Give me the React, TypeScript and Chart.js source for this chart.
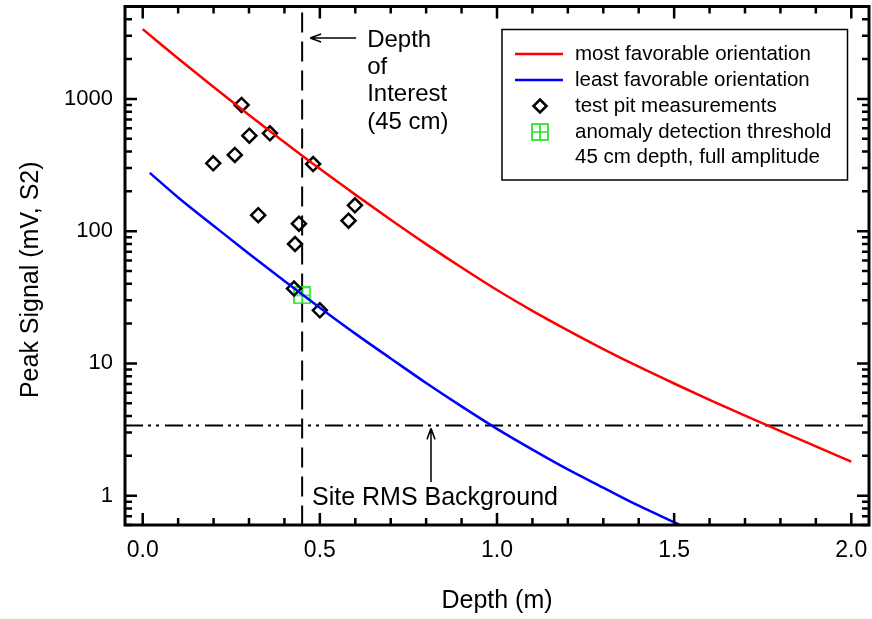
import React, { useEffect, useRef } from "react";
import { Chart, registerables } from "chart.js";

Chart.register(...registerables);

const FONT = '"Liberation Sans", Arial, Helvetica, sans-serif';

// ---- data ----
const mostDepth = [0.0, 0.1, 0.2, 0.3, 0.4, 0.5, 0.6, 0.7, 0.8, 0.9, 1.0, 1.1, 1.2, 1.3, 1.4, 1.5, 1.6, 1.7, 1.8, 1.9, 2.0];
const mostFavorable = [3370, 2023, 1230, 757, 471, 296, 189, 122, 79.8, 53.1, 35.9, 25.0, 17.8, 12.85, 9.44, 7.05, 5.31, 4.03, 3.08, 2.36, 1.81];

const leastDepth = [0.02, 0.1, 0.2, 0.3, 0.4, 0.5, 0.6, 0.7, 0.8, 0.9, 1.0, 1.1, 1.2, 1.3, 1.4, 1.5, 1.6];
const leastFavorable = [276, 180, 110, 67.5, 42.0, 26.4, 16.8, 10.9, 7.11, 4.73, 3.2, 2.23, 1.58, 1.15, 0.84, 0.63, 0.47];

const pitDepth = [0.199, 0.26, 0.279, 0.301, 0.326, 0.359, 0.427, 0.43, 0.441, 0.481, 0.5, 0.581, 0.599];
const pitSignal = [326, 377, 900, 527, 132, 550, 36.8, 80, 114, 322, 25.2, 120, 157];

const thresholdDepth = [0.45];
const thresholdSignal = [32.7];

const depthOfInterest = 0.45;
const siteRmsBackground = 3.4;

const xTickValues = [0, 0.5, 1.0, 1.5, 2.0];
const yTickValues = [1, 10, 100, 1000];
const xMin = -0.05;
const xMax = 2.05;
const yMin = 0.6;
const yMax = 5000;

const legendLabels = [
  "most favorable orientation",
  "least favorable orientation",
  "test pit measurements",
  "anomaly detection threshold",
  "45 cm depth, full amplitude",
];
const interestLabel = ["Depth", "of", "Interest", "(45 cm)"];
const backgroundLabel = "Site RMS Background";
const xTitle = "Depth (m)";
const yTitle = "Peak Signal (mV, S2)";

const RED = "#ff0000";
const BLUE = "#0000ff";
const GREEN = "#22e622";

function makeThresholdMarker(size: number): HTMLCanvasElement {
  const c = document.createElement("canvas");
  c.width = size;
  c.height = size;
  const g = c.getContext("2d")!;
  g.strokeStyle = GREEN;
  g.lineWidth = 1.7;
  const m = 1;
  g.strokeRect(m, m, size - 2 * m, size - 2 * m);
  g.beginPath();
  g.moveTo(size / 2, m);
  g.lineTo(size / 2, size - m);
  g.moveTo(m, size / 2);
  g.lineTo(size - m, size / 2);
  g.stroke();
  return c;
}

function drawDiamond(ctx: CanvasRenderingContext2D, cx: number, cy: number, r: number) {
  ctx.beginPath();
  ctx.moveTo(cx, cy - r);
  ctx.lineTo(cx + r, cy);
  ctx.lineTo(cx, cy + r);
  ctx.lineTo(cx - r, cy);
  ctx.closePath();
  ctx.stroke();
}

export default function App() {
  const ref = useRef<HTMLCanvasElement>(null);

  useEffect(() => {
    const marker = makeThresholdMarker(18);

    const overlay = {
      id: "overlay",
      beforeDatasetsDraw(chart: any) {
        const { ctx, chartArea: a, scales } = chart;
        const x = scales.x;
        const y = scales.y;
        ctx.save();
        ctx.beginPath();
        ctx.rect(a.left, a.top, a.right - a.left, a.bottom - a.top);
        ctx.clip();
        ctx.strokeStyle = "#000";
        ctx.lineWidth = 2;
        const px = x.getPixelForValue(depthOfInterest);
        ctx.setLineDash([20, 9]);
        ctx.lineDashOffset = -6;
        ctx.beginPath();
        ctx.moveTo(px, a.top);
        ctx.lineTo(px, a.bottom);
        ctx.stroke();
        const py = y.getPixelForValue(siteRmsBackground);
        ctx.setLineDash([18, 5, 3, 5, 3, 6]);
        ctx.lineDashOffset = 0;
        ctx.beginPath();
        ctx.moveTo(a.left, py);
        ctx.lineTo(a.right, py);
        ctx.stroke();
        ctx.restore();
      },
      afterDraw(chart: any) {
        const { ctx, chartArea: a, scales } = chart;
        const x = scales.x;
        const y = scales.y;
        ctx.save();
        ctx.setLineDash([]);
        ctx.strokeStyle = "#000";
        ctx.fillStyle = "#000";

        // ticks (inward, on all four sides)
        ctx.lineWidth = 2.5;
        ctx.beginPath();
        for (let i = 0; i <= 20; i++) {
          const v = i / 10;
          const len = i % 5 === 0 ? 12 : 7;
          const p = x.getPixelForValue(v);
          ctx.moveTo(p, a.bottom);
          ctx.lineTo(p, a.bottom - len);
          ctx.moveTo(p, a.top);
          ctx.lineTo(p, a.top + len);
        }
        for (let e = -1; e <= 3; e++) {
          for (let k = 1; k <= 9; k++) {
            const v = k * Math.pow(10, e);
            if (v < yMin - 1e-9 || v > yMax + 1e-9) continue;
            const len = k === 1 ? 12 : 7;
            const p = y.getPixelForValue(v);
            ctx.moveTo(a.left, p);
            ctx.lineTo(a.left + len, p);
            ctx.moveTo(a.right, p);
            ctx.lineTo(a.right - len, p);
          }
        }
        ctx.stroke();

        // frame
        ctx.lineWidth = 3;
        ctx.strokeRect(a.left, a.top, a.right - a.left, a.bottom - a.top);

        // y axis title
        ctx.save();
        ctx.translate(31, (a.top + a.bottom) / 2 + 14);
        ctx.rotate(-Math.PI / 2);
        ctx.font = `25px ${FONT}`;
        ctx.textAlign = "center";
        ctx.textBaseline = "middle";
        ctx.fillText(yTitle, 0, 0);
        ctx.restore();

        // legend
        const lx = 502;
        const ly = 29.5;
        const lw = 345.5;
        const lh = 150.5;
        ctx.fillStyle = "#fff";
        ctx.fillRect(lx, ly, lw, lh);
        ctx.lineWidth = 1.5;
        ctx.strokeStyle = "#000";
        ctx.strokeRect(lx, ly, lw, lh);
        const rows = [54, 80, 106, 132, 157];
        ctx.lineWidth = 2.5;
        ctx.strokeStyle = RED;
        ctx.beginPath();
        ctx.moveTo(515, rows[0]);
        ctx.lineTo(563, rows[0]);
        ctx.stroke();
        ctx.strokeStyle = BLUE;
        ctx.beginPath();
        ctx.moveTo(515, rows[1]);
        ctx.lineTo(563, rows[1]);
        ctx.stroke();
        ctx.strokeStyle = "#000";
        ctx.lineWidth = 2.5;
        drawDiamond(ctx, 540, rows[2], 6.5);
        ctx.drawImage(marker, 540 - 9, rows[3] - 9);
        ctx.fillStyle = "#000";
        ctx.font = `20.5px ${FONT}`;
        ctx.textBaseline = "middle";
        ctx.textAlign = "left";
        legendLabels.forEach((t, i) => ctx.fillText(t, 575, rows[i]));

        // "Depth of Interest" annotation
        const px = x.getPixelForValue(depthOfInterest);
        ctx.font = `24px ${FONT}`;
        interestLabel.forEach((t, i) => ctx.fillText(t, px + 65, 40 + i * 27.3));
        ctx.lineWidth = 1.5;
        ctx.beginPath();
        ctx.moveTo(px + 54, 38);
        ctx.lineTo(px + 8, 38);
        ctx.moveTo(px + 8, 38);
        ctx.lineTo(px + 19, 34);
        ctx.moveTo(px + 8, 38);
        ctx.lineTo(px + 19, 42);
        ctx.stroke();

        // "Site RMS Background" annotation
        const py = y.getPixelForValue(siteRmsBackground);
        const ax = 431;
        ctx.beginPath();
        ctx.moveTo(ax, 482);
        ctx.lineTo(ax, py + 3);
        ctx.moveTo(ax, py + 3);
        ctx.lineTo(ax - 4, py + 14);
        ctx.moveTo(ax, py + 3);
        ctx.lineTo(ax + 4, py + 14);
        ctx.stroke();
        ctx.font = `25px ${FONT}`;
        ctx.fillText(backgroundLabel, 312, 498);

        ctx.restore();
      },
    };

    const chart = new Chart(ref.current!, {
      type: "scatter",
      data: {
        datasets: [
          {
            label: legendLabels[0],
            data: mostDepth.map((d, i) => ({ x: d, y: mostFavorable[i] })),
            showLine: true,
            borderColor: RED,
            backgroundColor: RED,
            borderWidth: 2.5,
            pointRadius: 0,
            cubicInterpolationMode: "monotone",
          },
          {
            label: legendLabels[1],
            data: leastDepth.map((d, i) => ({ x: d, y: leastFavorable[i] })),
            showLine: true,
            borderColor: BLUE,
            backgroundColor: BLUE,
            borderWidth: 2.5,
            pointRadius: 0,
            cubicInterpolationMode: "monotone",
          },
          {
            label: legendLabels[2],
            data: pitDepth.map((d, i) => ({ x: d, y: pitSignal[i] })),
            showLine: false,
            pointStyle: "rectRot",
            pointRadius: 7,
            borderColor: "#000",
            backgroundColor: "rgba(0,0,0,0)",
            borderWidth: 2.5,
          },
          {
            label: legendLabels[3],
            data: thresholdDepth.map((d, i) => ({ x: d, y: thresholdSignal[i] })),
            showLine: false,
            pointStyle: marker as any,
            pointRadius: 9,
          },
        ],
      },
      options: {
        responsive: false,
        animation: false,
        events: [],
        layout: { autoPadding: false, padding: { top: 6.5, right: 3, left: 0, bottom: 0 } },
        plugins: {
          legend: { display: false },
          tooltip: { enabled: false },
        },
        scales: {
          x: {
            type: "linear",
            min: xMin,
            max: xMax,
            bounds: "data",
            grid: { display: false, drawTicks: false },
            border: { display: false },
            ticks: {
              autoSkip: false,
              maxRotation: 0,
              padding: 12,
              color: "#000",
              font: { size: 23, family: FONT },
              callback: (v: any) => Number(v).toFixed(1),
            },
            afterBuildTicks: (scale: any) => {
              scale.ticks = xTickValues.map((v) => ({ value: v }));
            },
            afterFit: (scale: any) => {
              scale.height = 94;
              scale.paddingLeft = 0;
              scale.paddingRight = 0;
            },
            title: {
              display: true,
              text: xTitle,
              color: "#000",
              font: { size: 25, family: FONT },
              padding: { top: 0, bottom: 3 },
            },
          },
          y: {
            type: "logarithmic",
            min: yMin,
            max: yMax,
            bounds: "data",
            grid: { display: false, drawTicks: false },
            border: { display: false },
            ticks: {
              autoSkip: false,
              padding: 12,
              color: "#000",
              font: { size: 22, family: FONT },
              callback: (v: any) => String(v),
            },
            afterBuildTicks: (scale: any) => {
              scale.ticks = yTickValues.map((v) => ({ value: v }));
            },
            afterFit: (scale: any) => {
              scale.width = 125;
              scale.paddingTop = 0;
              scale.paddingBottom = 0;
            },
            title: { display: false },
          },
        },
      },
      plugins: [overlay],
    } as any);

    return () => chart.destroy();
  }, []);

  return (
    <div style={{ position: "absolute", left: 0, top: 0, width: 872, height: 619, background: "#fff" }}>
      <canvas ref={ref} width={872} height={619} style={{ display: "block" }} />
    </div>
  );
}
